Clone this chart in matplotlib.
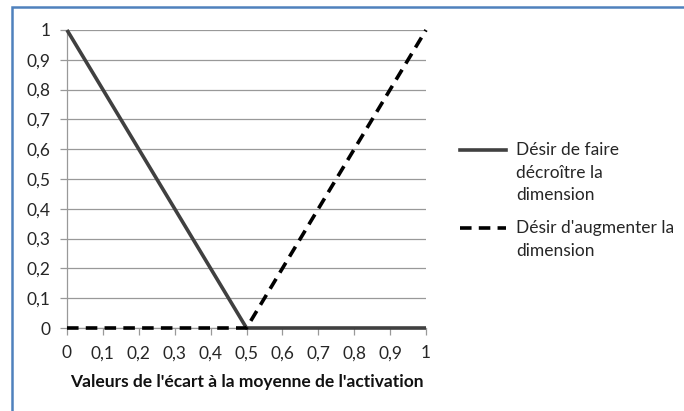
import matplotlib
matplotlib.use("Agg")
import matplotlib.pyplot as plt
from matplotlib.lines import Line2D
from matplotlib.patches import Rectangle

# Data
x_vals = [0, 0.5, 1]
desir_decroitre = [1, 0, 0]
desir_augmenter = [0, 0, 1]
ticks = [0, 0.1, 0.2, 0.3, 0.4, 0.5, 0.6, 0.7, 0.8, 0.9, 1]
tick_labels = ["0", "0,1", "0,2", "0,3", "0,4", "0,5", "0,6", "0,7", "0,8", "0,9", "1"]
label_decroitre = "Désir de faire\ndécroître la\ndimension"
label_augmenter = "Désir d'augmenter la\ndimension"
xlabel = "Valeurs de l'écart à la moyenne de l'activation"

plt.rcParams['font.family'] = ['Lato', 'DejaVu Sans']

W, H = 684, 411
fig = plt.figure(figsize=(W / 100, H / 100), dpi=100)

# blue frame (left and top edges visible)
fig.add_artist(Rectangle((12 / W, -0.1), 1.2, (H - 7) / H + 0.1,
                         transform=fig.transFigure, fill=False,
                         edgecolor='#4F81BD', linewidth=1.8))

ax = fig.add_axes([67 / W, 1 - 328 / H, (426 - 67) / W, (328 - 30) / H])
ax.set_xlim(0, 1)
ax.set_ylim(0, 1)

grid_c = '#999999'
for t in ticks:
    ax.axhline(t, color=grid_c, linewidth=0.9, zorder=1)

ax.plot(x_vals, desir_decroitre, color='#404040', linewidth=2.6,
        solid_capstyle='butt', zorder=3, clip_on=False)
ax.plot(x_vals, desir_augmenter, color='#000000', linewidth=2.6,
        dashes=(3.2, 2), dash_capstyle='butt', zorder=4, clip_on=False)

for side in ['top', 'right']:
    ax.spines[side].set_visible(False)
ax.spines['left'].set_color(grid_c)
ax.spines['bottom'].set_color(grid_c)
ax.spines['left'].set_linewidth(0.9)
ax.spines['bottom'].set_linewidth(0.9)

ax.set_xticks(ticks)
ax.set_xticklabels(tick_labels)
ax.set_yticks(ticks)
ax.set_yticklabels(tick_labels)
ax.tick_params(axis='both', colors=grid_c, labelcolor='#262626',
               labelsize=12.5, length=5, width=0.9)
ax.tick_params(axis='x', pad=7.5)
ax.tick_params(axis='y', pad=7)
ax.set_xlabel(xlabel, fontsize=12.5, fontweight='bold', color='#111111', labelpad=9)

# legend (drawn manually so the key aligns with the first text line)
def px(xp, yp):
    return xp / W, 1 - yp / H

for (ys, style, col, lab) in [(150, '-', '#404040', label_decroitre),
                               (228, '--', '#000000', label_augmenter)]:
    x0, y0 = px(460, ys)
    x1, _ = px(506, ys)
    ln = Line2D([x0, x1], [y0, y0], transform=fig.transFigure,
                color=col, linewidth=2.6)
    if style == '--':
        ln.set_dashes((3.2, 2))
    fig.add_artist(ln)
    tx, ty = px(516, ys - 8)
    fig.text(tx, ty, lab, fontsize=12.5, color='#262626', va='top', ha='left',
             linespacing=1.5)

fig.savefig('out.png', dpi=100)
